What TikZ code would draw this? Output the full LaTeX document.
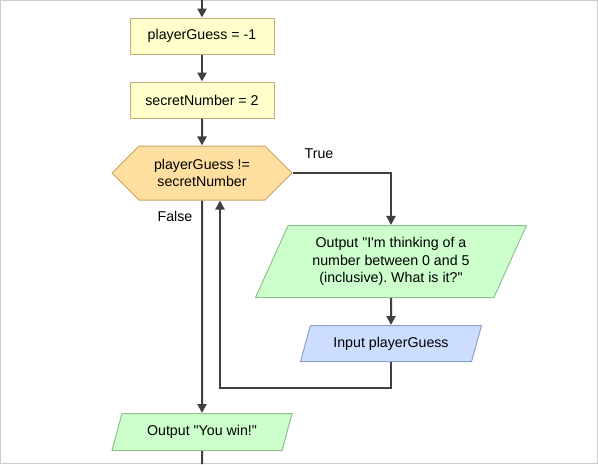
\documentclass[tikz,border=0pt]{standalone}
\usepackage{fontspec}
\setmainfont{Liberation Sans}
\usetikzlibrary{arrows.meta,positioning,shapes.geometric,shapes.symbols}
\frenchspacing

\definecolor{procfill}{HTML}{FFFFCC}
\definecolor{procline}{HTML}{BDB177}
\definecolor{decfill}{HTML}{FFDFA0}
\definecolor{decline}{HTML}{C9A465}
\definecolor{outfill}{HTML}{CCFFCC}
\definecolor{outline}{HTML}{8FC08F}
\definecolor{infill}{HTML}{CCDDFF}
\definecolor{inline}{HTML}{8FA0D0}
\definecolor{flowline}{HTML}{404040}

\tikzset{
  process/.style={rectangle,draw=procline,fill=procfill,line width=1pt,
    minimum width=144pt,minimum height=36pt,inner sep=2pt},
  decision/.style={signal,signal to=east and west,signal pointer angle=90,
    draw=decline,fill=decfill,line width=1pt,
    minimum width=180pt,minimum height=54pt,inner sep=2pt,align=center},
  io/.style={trapezium,trapezium left angle=60,trapezium right angle=120,
    trapezium stretches body,line width=1pt,inner sep=2pt,align=center},
  output/.style={io,draw=outline,fill=outfill},
  input/.style={io,draw=inline,fill=infill},
  flow/.style={draw=flowline,line width=2pt,-{Triangle[width=9pt,length=9pt]}},
}

\begin{document}
\begin{tikzpicture}[x=1pt,y=-1pt,font=\fontsize{14.2pt}{17.5pt}\selectfont,node distance=27pt]

  \useasboundingbox (0,0) rectangle (598,464);
  \draw[draw=black!20,line width=1pt] (0.5,0.5) rectangle (597.5,463.5);

  \coordinate (start) at (202,0);
  \node[process] (guess) at (202,36) {playerGuess = -1};
  \node[process] (secret) [below=of guess] {secretNumber = 2};
  \node[decision] (loop) [below=of secret] {playerGuess !=\\secretNumber};
  \node[output,trapezium left angle=58,trapezium right angle=122,
        minimum width=271pt,minimum height=72pt] (ask) at (391,261.5)
        {Output \textquotedbl I\textquotesingle m thinking of a\\number between 0 and 5\\ (inclusive). What is it?\textquotedbl};
  \node[input,minimum width=181pt,minimum height=36pt] (read) [below=of ask] {Input playerGuess};
  \node[output,minimum width=180pt,minimum height=37pt] (win) at (202,432) {Output \textquotedbl You win!\textquotedbl};
  \coordinate (stop) at (202,464);

  \draw[flow] (start) -- (guess);
  \draw[flow] (guess) -- (secret);
  \draw[flow] (secret) -- (loop);
  \draw[flow] (loop.east) -| (ask.north);
  \draw[flow] (ask) -- (read);
  \draw[flow] (read.south) -- ++(0,26) -| ([xshift=18pt]loop.south);
  \draw[flow] (loop.south) -- (win.north);
  \draw[draw=flowline,line width=2pt] (win.south) -- (stop);

  \node (true) at (319,154) {True};
  \node (false) at (175,216) {False};

\end{tikzpicture}
\end{document}
